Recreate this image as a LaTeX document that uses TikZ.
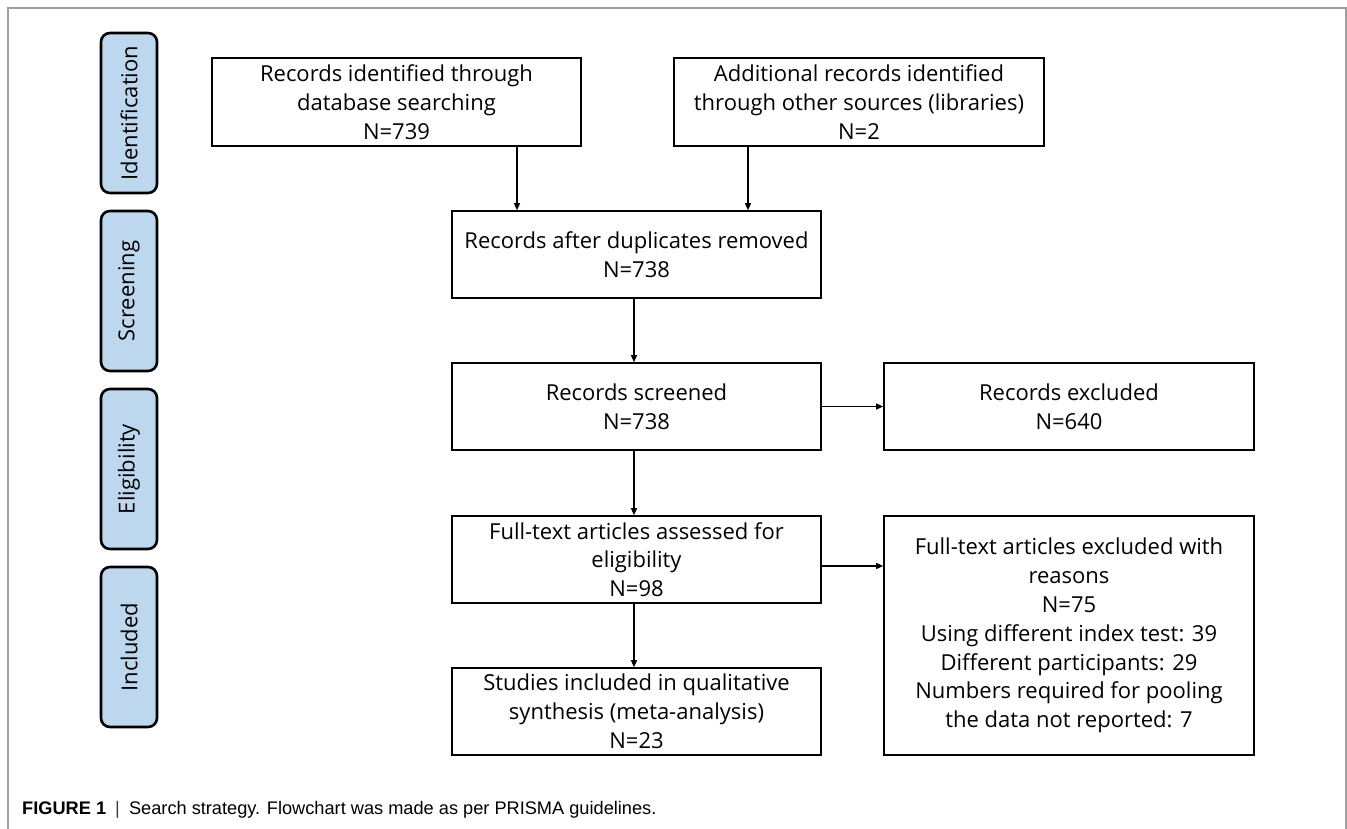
\documentclass[tikz,border=0pt]{standalone}
\usepackage{fontspec}
\setmainfont{Open Sans}[Ligatures={NoCommon}]
\newfontfamily\capfont{Liberation Sans}
\usetikzlibrary{arrows.meta}
\definecolor{pillblue}{RGB}{189,215,238}
\definecolor{framegray}{RGB}{160,160,160}
\begin{document}
\begin{tikzpicture}[x=1pt,y=-1pt,
  box/.style={draw=black, line width=1.6pt, rectangle, align=center, inner sep=0pt,
    font=\fontsize{22}{28.8}\selectfont},
  pill/.style={draw=black, line width=2.6pt, fill=pillblue, rounded corners=9pt,
    minimum width=56pt, minimum height=160pt, inner sep=0pt},
  pilltext/.style={rotate=90, font=\fontsize{22}{24}\selectfont},
  arr/.style={line width=1.3pt, -{Triangle[length=7pt,width=6pt]}}]
\useasboundingbox (0,0) rectangle (1347,829);
% frame
\draw[framegray, line width=1.5pt] (8,829) -- (8,8) -- (1346,8) -- (1346,829);
% stage pills
\node[pill] (pI) at (129,113) {};
\node[pilltext] at (pI.center) {Identification};
\node[pill] (pS) at (129,291) {};
\node[pilltext] at (pS.center) {Screening};
\node[pill] (pE) at (129,469) {};
\node[pilltext] at (pE.center) {Eligibility};
\node[pill] (pN) at (129,647) {};
\node[pilltext] at (pN.center) {Included};
% boxes
\node[box, minimum width=369pt, minimum height=88pt] (A) at (396.5,102)
  {Records identified through\\database searching\\N=739};
\node[box, minimum width=370pt, minimum height=88pt] (B) at (859,102)
  {Additional records identified\\through other sources (libraries)\\N=2};
\node[box, minimum width=369pt, minimum height=87pt] (C) at (636.5,254.5)
  {Records after duplicates removed\\N=738};
\node[box, minimum width=369pt, minimum height=87pt] (D) at (636.5,406.5)
  {Records screened\\N=738};
\node[box, minimum width=369pt, minimum height=87pt] (E) at (636.5,559.5)
  {Full-text articles assessed for\\eligibility\\N=98};
\node[box, minimum width=369pt, minimum height=87pt] (F) at (636.5,711.5)
  {Studies included in qualitative\\synthesis (meta-analysis)\\N=23};
\node[box, minimum width=370pt, minimum height=87pt] (G) at (1069,406.5)
  {Records excluded\\N=640};
\node[box, minimum width=370pt, minimum height=239pt] (H) at (1069,635.5)
  {Full-text articles excluded with\\reasons\\N=75\\Using different index test: 39\\Different participants: 29\\Numbers required for pooling\\the data not reported: 7};
% connectors
\coordinate (xa) at (517,0);
\coordinate (xb) at (748,0);
\coordinate (xc) at (634,0);
\coordinate (ye) at (0,566);
\draw[arr] (A.south -| xa) -- (C.north -| xa);
\draw[arr] (B.south -| xb) -- (C.north -| xb);
\draw[arr] (C.south -| xc) -- (D.north -| xc);
\draw[arr] (D.south -| xc) -- (E.north -| xc);
\draw[arr] (E.south -| xc) -- (F.north -| xc);
\draw[arr] (D.east) -- (G.west);
\draw[arr] (E.east |- ye) -- (H.west |- ye);
% caption
\node[anchor=base west, inner sep=0pt, font=\capfont\fontsize{18.2}{20}\selectfont] (cap) at (22,814)
  {\textbf{FIGURE 1}\hspace{0.5em}{\color{darkgray}|}\hspace{0.5em}Search strategy. Flowchart was made as per PRISMA guidelines.};
\end{tikzpicture}
\end{document}
